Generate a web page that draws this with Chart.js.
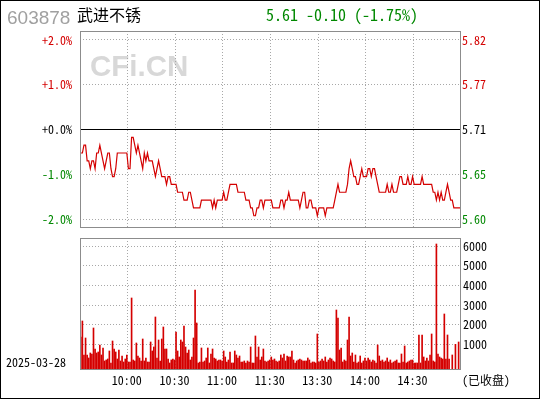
<!DOCTYPE html>
<html><head><meta charset="utf-8">
<script src="https://cdn.jsdelivr.net/npm/chart.js@4/dist/chart.umd.min.js"></script>
<style>
html,body{margin:0;padding:0;background:#fff;}
#wrap{position:relative;width:540px;height:400px;overflow:hidden;}
canvas{position:absolute;left:0;top:0;}
</style></head><body>
<div id="wrap"><canvas id="price" width="540" height="400"></canvas><canvas id="vol" width="540" height="400"></canvas></div>
<script>
const stockCode = '603878';
const stockName = '武进不锈';
const quoteText = '5.61 -0.10 (-1.75%)';
const tradeDate = '2025-03-28';
const statusText = '(已收盘)';
const watermark = 'CFi.CN';
const prevClose = 5.71;
const pctTicks = [2, 1, 0, -1, -2];
const pctTickLabels = ['+2.0%', '+1.0%', '+0.0%', '-1.0%', '-2.0%'];
const priceTickLabels = ['5.82', '5.77', '5.71', '5.65', '5.60'];
const volumeTicks = [1000, 2000, 3000, 4000, 5000, 6000];
const timeTickLabels = ['10:00', '10:30', '11:00', '11:30', '13:30', '14:00', '14:30'];

const prices = [
 5.68,5.68,5.69,5.69,5.67,5.67,5.66,5.67,5.67,5.66,
 5.68,5.68,5.69,5.68,5.67,5.66,5.67,5.68,5.68,5.66,
 5.65,5.65,5.66,5.68,5.68,5.68,5.68,5.68,5.68,5.68,
 5.66,5.66,5.70,5.70,5.69,5.68,5.69,5.68,5.67,5.66,
 5.68,5.67,5.68,5.67,5.67,5.67,5.66,5.65,5.66,5.67,
 5.66,5.65,5.65,5.65,5.64,5.65,5.65,5.64,5.64,5.64,
 5.64,5.63,5.63,5.63,5.63,5.62,5.62,5.62,5.63,5.63,
 5.62,5.61,5.61,5.61,5.61,5.61,5.62,5.62,5.62,5.62,
 5.62,5.62,5.62,5.61,5.62,5.61,5.62,5.62,5.62,5.62,
 5.63,5.62,5.62,5.63,5.64,5.64,5.64,5.64,5.64,5.63,
 5.63,5.63,5.63,5.63,5.62,5.62,5.62,5.61,5.61,5.60,
 5.60,5.61,5.61,5.62,5.62,5.61,5.62,5.62,5.62,5.62,
 5.62,5.61,5.61,5.61,5.61,5.61,5.62,5.62,5.61,5.62,
 5.62,5.63,5.62,5.62,5.62,5.62,5.62,5.62,5.61,5.62,
 5.63,5.63,5.61,5.61,5.62,5.62,5.61,5.61,5.61,5.60,
 5.61,5.61,5.61,5.61,5.60,5.61,5.61,5.61,5.61,5.61,
 5.62,5.63,5.64,5.63,5.63,5.63,5.63,5.63,5.64,5.66,
 5.67,5.66,5.65,5.65,5.64,5.64,5.65,5.66,5.65,5.65,
 5.65,5.66,5.66,5.65,5.66,5.66,5.65,5.64,5.63,5.63,
 5.63,5.63,5.63,5.64,5.63,5.63,5.64,5.63,5.63,5.63,
 5.64,5.65,5.65,5.64,5.64,5.64,5.65,5.64,5.64,5.65,
 5.64,5.64,5.64,5.64,5.64,5.65,5.64,5.64,5.64,5.64,
 5.64,5.64,5.63,5.63,5.62,5.63,5.62,5.63,5.62,5.62,
 5.63,5.64,5.63,5.62,5.62,5.61,5.61,5.61,5.61,5.61
];

const volumes = [
 1374,2190,456,1323,456,303,558,507,1833,762,
 558,609,966,456,813,150,201,252,660,48,
 1170,762,609,252,711,150,405,99,252,456,
 99,99,3363,201,150,1068,405,303,150,1272,
 150,303,99,99,1119,660,864,2394,303,1221,
 150,1272,1884,762,762,252,48,201,252,201,
 1629,660,354,1221,1119,1935,864,558,711,201,
 354,1323,3771,2088,48,99,813,99,150,303,
 813,48,507,762,303,252,150,201,201,150,
 660,354,99,201,609,48,48,660,456,303,
 405,99,99,150,48,150,99,864,48,48,
 1425,354,864,201,354,762,150,99,150,201,
 354,200,252,150,99,150,456,303,507,150,
 405,354,354,660,201,48,150,201,252,201,
 150,150,150,303,201,48,100,99,48,1527,
 99,150,252,150,354,99,201,303,252,150,
 99,2751,2343,711,813,99,201,150,1221,2394,
 405,558,99,456,48,99,405,48,150,303,
 150,303,201,99,201,150,48,966,405,150,
 201,99,150,303,99,201,48,99,150,201,
 48,48,507,99,915,48,99,150,201,201,
 48,48,48,1476,48,1476,354,150,303,150,
 456,1527,150,99,6117,507,354,303,252,2547,
 252,1476,252,null,456,null,1000,null,1119,null
];

// minute categories of the two trading sessions
const minutes = [];
function pushSession(h, m, count) {
  for (let k = 0; k < count; k++) {
    const t = h * 60 + m + k;
    minutes.push(String(Math.floor(t / 60)).padStart(2, '0') + ':' + String(t % 60).padStart(2, '0'));
  }
}
pushSession(9, 31, 120);
pushSession(13, 1, 120);

const gridIdx = new Set(timeTickLabels.map(l => minutes.indexOf(l) + 1));
const noonIdx = minutes.indexOf('11:30');
const MONO = "'Noto Sans Mono CJK SC', 'DejaVu Sans Mono', monospace";
const GRID = '#a8a8a8';
const RED = '#d40000';
const GREEN = '#008800';
const xGridColor = ctx => gridIdx.has(ctx.index) ? GRID : 'rgba(0,0,0,0)';

const VOL_MIN = -310, VOL_MAX = 6423;
const PCT_RANGE = 2.2;

function frame(chart, color) {
  const a = chart.chartArea, c = chart.ctx;
  c.save();
  c.strokeStyle = color; c.lineWidth = 1;
  c.strokeRect(a.left + 0.5, a.top + 0.5, a.right - a.left - 1, a.bottom - a.top - 1);
  c.restore();
}

// second dotted line marking the lunch break (11:30 / 13:00)
function noonLine(chart) {
  const a = chart.chartArea, c = chart.ctx, xs = chart.scales.x;
  const half = (xs.getPixelForValue(1) - xs.getPixelForValue(0)) / 2;
  const x = Math.round(xs.getPixelForValue(noonIdx) + half) - 0.5;
  c.save();
  c.strokeStyle = GRID; c.lineWidth = 1; c.setLineDash([1, 2]);
  c.beginPath(); c.moveTo(x, a.top); c.lineTo(x, a.bottom); c.stroke();
  c.restore();
}

const pricePlugin = {
  id: 'pricePlugin',
  beforeDraw(chart) {
    const c = chart.ctx, a = chart.chartArea;
    c.save();
    c.fillStyle = '#d8d8d8';
    c.font = "bold 29.5px 'Liberation Sans', Arial, sans-serif";
    c.textBaseline = 'alphabetic';
    c.fillText(watermark, a.left + 10, 76);
    c.restore();
  },
  beforeDatasetsDraw(chart) { noonLine(chart); },
  afterDraw(chart) {
    const c = chart.ctx, a = chart.chartArea;
    const y0 = Math.floor(chart.scales.yPct.getPixelForValue(0)) + 0.5;
    c.save();
    c.strokeStyle = '#000'; c.lineWidth = 1;
    c.beginPath(); c.moveTo(a.left, y0); c.lineTo(a.right, y0); c.stroke();
    c.restore();
    frame(chart, '#8c8c8c');
    c.save();
    c.textBaseline = 'alphabetic';
    c.fillStyle = '#a0a0a0';
    c.font = "19px 'Liberation Sans', Arial, sans-serif";
    c.fillText(stockCode, 7, 24);
    c.fillStyle = '#000';
    c.font = "16px 'Noto Sans CJK SC', sans-serif";
    c.fillText(stockName, 77, 21);
    c.fillStyle = GREEN;
    c.font = '16px ' + MONO;
    c.fillText(quoteText, 266, 21);
    c.restore();
  }
};

const volPlugin = {
  id: 'volPlugin',
  beforeDatasetsDraw(chart) { noonLine(chart); },
  afterDraw(chart) {
    const c = chart.ctx;
    frame(chart, '#8c8c8c');
    c.save();
    c.fillStyle = '#000';
    c.textBaseline = 'alphabetic';
    c.font = '12px ' + MONO;
    c.fillText(tradeDate, 6, 367);
    c.fillText(statusText, 462, 385);
    c.strokeStyle = '#000'; c.lineWidth = 1;
    c.strokeRect(0.5, 0.5, 539, 398);
    c.restore();
  }
};

new Chart(document.getElementById('price'), {
  type: 'line',
  data: {
    labels: minutes,
    datasets: [{ data: prices, yAxisID: 'yPrice', borderColor: RED, borderWidth: 1.2, pointRadius: 0, tension: 0, fill: false }]
  },
  options: {
    responsive: false, animation: false, devicePixelRatio: 1,
    layout: { padding: { top: 31, left: 0, right: 0, bottom: 0 } },
    plugins: { legend: { display: false }, tooltip: { enabled: false } },
    scales: {
      x: {
        type: 'category', offset: true,
        grid: { offset: true, drawTicks: false, color: xGridColor, lineWidth: 1 },
        border: { display: false, dash: [1, 2] },
        ticks: { display: false, autoSkip: false },
        afterFit: s => { s.height = 172; }
      },
      yPct: {
        position: 'left', min: -PCT_RANGE, max: PCT_RANGE,
        afterBuildTicks: s => { s.ticks = pctTicks.map(v => ({ value: v })); },
        ticks: {
          callback: (v, i) => pctTickLabels[i],
          color: ctx => ctx.index < 2 ? RED : (ctx.index === 2 ? '#000' : GREEN),
          font: { family: MONO, size: 12 }, padding: 8
        },
        grid: { drawTicks: false, color: ctx => ctx.index === 2 ? 'rgba(0,0,0,0)' : GRID },
        border: { display: false, dash: [1, 2] },
        afterFit: s => { s.width = 80; }
      },
      yPrice: {
        position: 'right', min: prevClose * (1 - PCT_RANGE / 100), max: prevClose * (1 + PCT_RANGE / 100),
        afterBuildTicks: s => { s.ticks = pctTicks.map(p => ({ value: prevClose * (1 + p / 100) })); },
        ticks: {
          callback: (v, i) => priceTickLabels[i],
          color: ctx => ctx.index < 2 ? RED : (ctx.index === 2 ? '#000' : GREEN),
          font: { family: MONO, size: 12 }, padding: 1
        },
        grid: { display: false, drawTicks: false },
        border: { display: false },
        afterFit: s => { s.width = 79; }
      }
    }
  },
  plugins: [pricePlugin]
});

new Chart(document.getElementById('vol'), {
  type: 'bar',
  data: {
    labels: minutes,
    datasets: [{ data: volumes, yAxisID: 'yVol', backgroundColor: RED, barThickness: 1, base: VOL_MIN }]
  },
  options: {
    responsive: false, animation: false, devicePixelRatio: 1,
    layout: { padding: { top: 238, left: 80, right: 0, bottom: 0 } },
    plugins: { legend: { display: false }, tooltip: { enabled: false } },
    scales: {
      x: {
        type: 'category', offset: true,
        grid: { offset: true, drawTicks: false, color: xGridColor, lineWidth: 1 },
        border: { display: false, dash: [1, 2] },
        ticks: {
          autoSkip: false, minRotation: 0, maxRotation: 0, padding: 3,
          callback: (v, i) => timeTickLabels.includes(minutes[i]) ? minutes[i] : '',
          color: '#000', font: { family: MONO, size: 12 }
        },
        afterFit: s => { s.height = 30; }
      },
      yVol: {
        position: 'right', min: VOL_MIN, max: VOL_MAX,
        afterBuildTicks: s => { s.ticks = volumeTicks.map(v => ({ value: v })); },
        ticks: { callback: v => String(v), color: '#000', font: { family: MONO, size: 12 }, padding: 2 },
        grid: { drawTicks: false, color: GRID },
        border: { display: false, dash: [1, 2] },
        afterFit: s => { s.width = 79; }
      }
    }
  },
  plugins: [volPlugin]
});
</script>
</body></html>
